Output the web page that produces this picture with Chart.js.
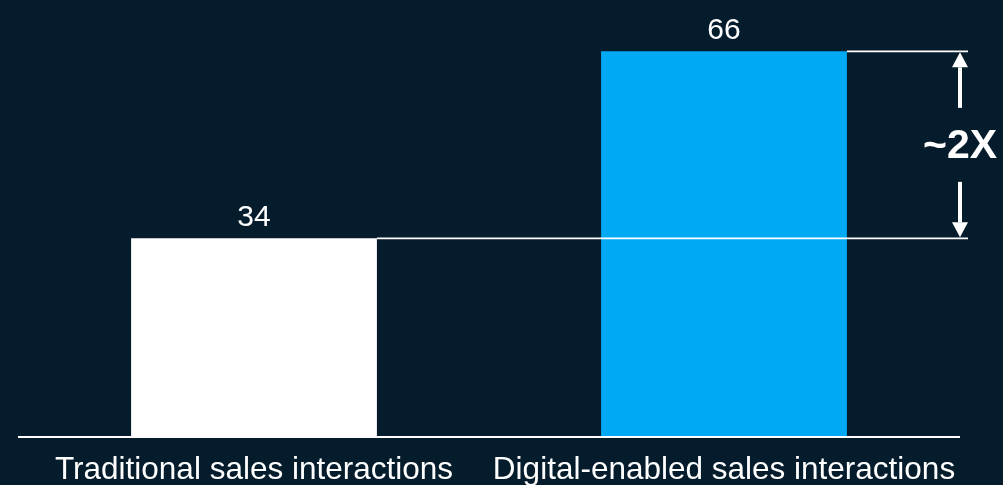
<!DOCTYPE html>
<html>
<head>
<meta charset="utf-8">
<script src="https://cdn.jsdelivr.net/npm/chart.js@4.4.1/dist/chart.umd.min.js"></script>
<style>
html, body { margin: 0; padding: 0; background: #051c2c; }
#wrap { width: 1003px; height: 485px; position: relative; }
</style>
</head>
<body>
<div id="wrap"><canvas id="chart"></canvas></div>
<script>
// ---- data ----
const categories = ['Traditional sales interactions', 'Digital-enabled sales interactions'];
const values = [34, 66];
const barColors = ['#ffffff', '#00a9f4'];
const multipleLabel = '~2X';

const BG = '#051c2c';
const FONT = '"Liberation Sans", Arial, Helvetica, sans-serif';

function drawArrow(ctx, x, fromY, toY) {
    // shaft from fromY to toY, head at toY
    const dir = toY > fromY ? 1 : -1;
    const headLen = 15, headHalf = 8;
    ctx.beginPath();
    ctx.moveTo(x, fromY);
    ctx.lineTo(x, toY - dir * headLen);
    ctx.stroke();
    ctx.beginPath();
    ctx.moveTo(x, toY);
    ctx.lineTo(x - headHalf, toY - dir * headLen);
    ctx.lineTo(x + headHalf, toY - dir * headLen);
    ctx.closePath();
    ctx.fill();
}

const decorPlugin = {
    id: 'decor',
    beforeDraw(chart) {
        const ctx = chart.ctx;
        ctx.save();
        ctx.fillStyle = BG;
        ctx.fillRect(0, 0, chart.width, chart.height);
        ctx.restore();
    },
    afterDatasetsDraw(chart) {
        const ctx = chart.ctx;
        const area = chart.chartArea;
        const yScale = chart.scales.y;
        const bars = chart.getDatasetMeta(0).data;
        ctx.save();

        // baseline
        ctx.strokeStyle = '#ffffff';
        ctx.lineWidth = 2;
        ctx.beginPath();
        ctx.moveTo(area.left - 1, area.bottom);
        ctx.lineTo(area.right + 1, area.bottom);
        ctx.stroke();

        // value labels
        ctx.fillStyle = '#ffffff';
        ctx.font = '30px ' + FONT;
        ctx.textAlign = 'center';
        ctx.textBaseline = 'alphabetic';
        bars.forEach((bar, i) => {
            ctx.fillText(String(values[i]), bar.x, bar.y - 12);
        });

        // reference lines from bar tops
        const yLow = yScale.getPixelForValue(values[0]);
        const yHigh = yScale.getPixelForValue(values[1]);
        const xEnd = area.right + 9;
        ctx.lineWidth = 1.6;
        ctx.beginPath();
        ctx.moveTo(bars[0].x + bars[0].width / 2, yLow);
        ctx.lineTo(xEnd, yLow);
        ctx.moveTo(bars[1].x + bars[1].width / 2, yHigh);
        ctx.lineTo(xEnd, yHigh);
        ctx.stroke();

        // arrows + multiple label
        const ax = area.right + 1;
        const mid = (yLow + yHigh) / 2;
        ctx.lineWidth = 4;
        drawArrow(ctx, ax, mid - 37, yHigh + 1);
        drawArrow(ctx, ax, mid + 37, yLow - 1);

        ctx.font = 'bold 41px ' + FONT;
        ctx.textBaseline = 'middle';
        ctx.fillText(multipleLabel, ax, mid + 2);
        ctx.restore();
    }
};

new Chart(document.getElementById('chart'), {
    type: 'bar',
    data: {
        labels: categories,
        datasets: [{
            data: values,
            backgroundColor: barColors,
            borderWidth: 0,
            barPercentage: 0.523,
            categoryPercentage: 1
        }]
    },
    options: {
        responsive: true,
        maintainAspectRatio: false,
        animation: false,
        layout: { padding: { left: 19, right: 44, top: 28, bottom: 0 } },
        plugins: {
            legend: { display: false },
            tooltip: { enabled: false }
        },
        scales: {
            x: {
                grid: { display: false, drawTicks: false },
                border: { display: false },
                ticks: {
                    color: '#ffffff',
                    font: { family: FONT, size: 31.5 },
                    padding: 14,
                    maxRotation: 0,
                    autoSkip: false
                },
                afterFit(scale) { scale.height = 48; }
            },
            y: {
                display: false,
                min: 0,
                max: 70
            }
        }
    },
    plugins: [decorPlugin]
});
</script>
</body>
</html>
